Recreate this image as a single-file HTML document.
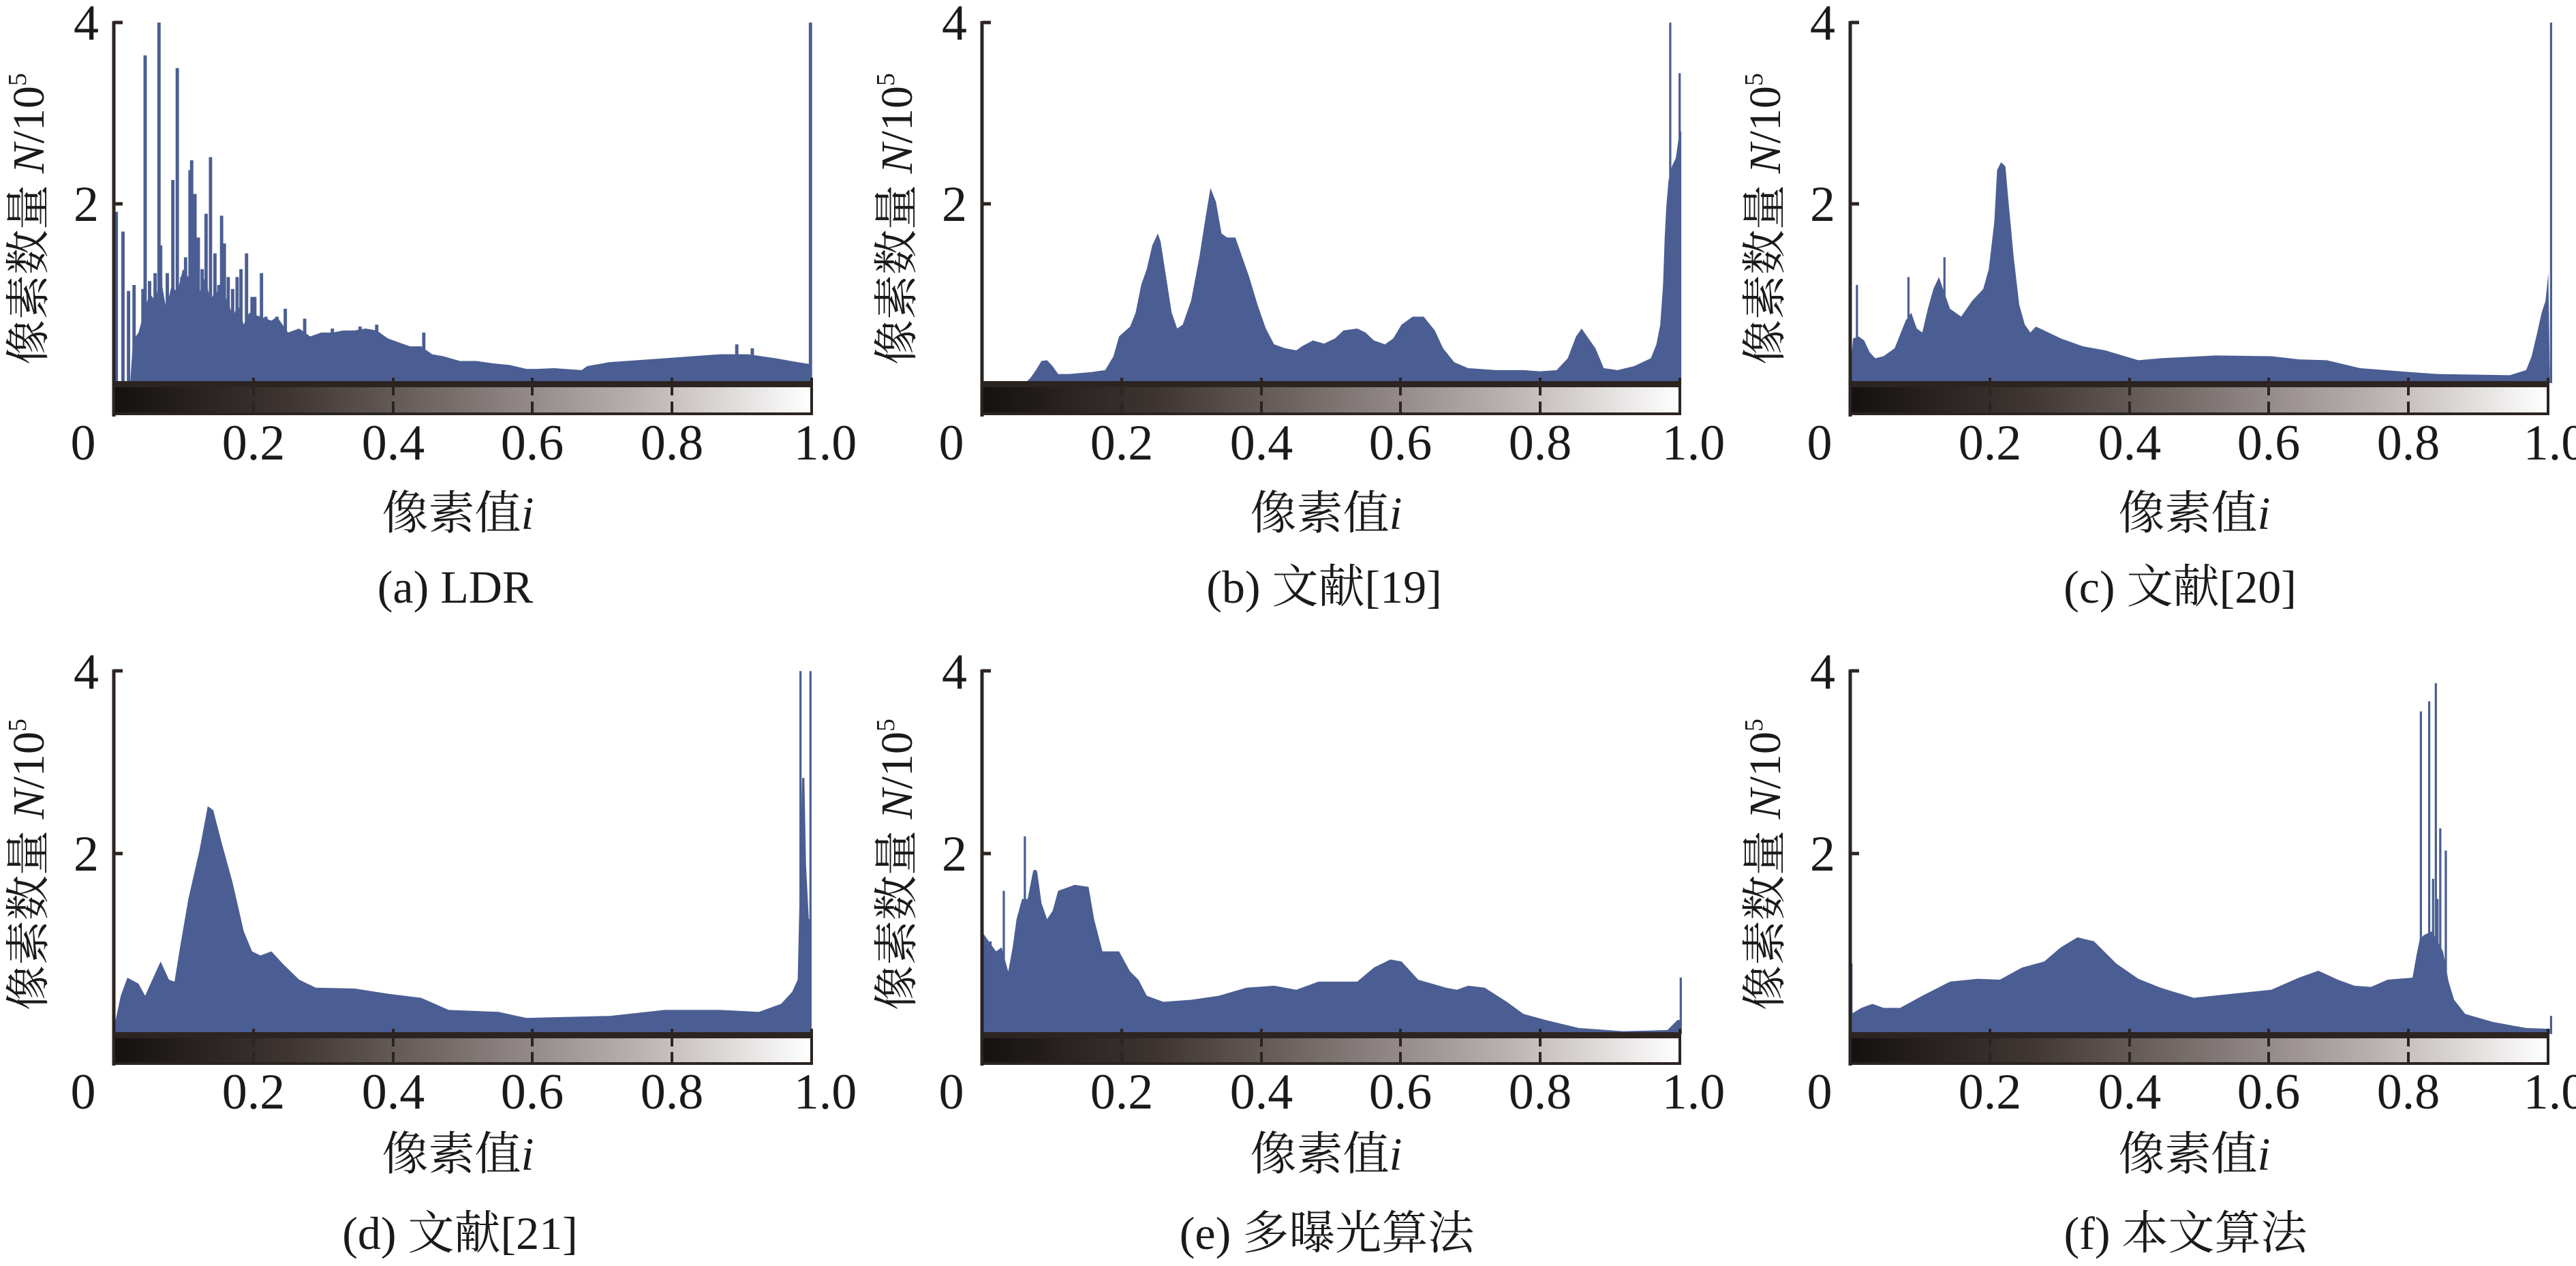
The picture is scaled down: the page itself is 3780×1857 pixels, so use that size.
<!DOCTYPE html>
<html><head><meta charset="utf-8"><style>
html,body{margin:0;padding:0;background:#fff;}
svg{display:block;}
text{font-family:"Liberation Serif","Noto Serif CJK SC",serif;fill:#1a1a1a;}
</style></head><body>
<svg width="3780" height="1857" viewBox="0 0 3780 1857" xmlns="http://www.w3.org/2000/svg" font-family="'Liberation Serif','Noto Serif CJK SC',serif">
<defs>
<linearGradient id="g" x1="0" y1="0" x2="1" y2="0">
<stop offset="0" stop-color="#141111"/><stop offset="0.25" stop-color="#3e3532"/><stop offset="0.5" stop-color="#7b7270"/><stop offset="0.75" stop-color="#b9b1b0"/><stop offset="1" stop-color="#ffffff"/>
</linearGradient>
</defs>

<g fill="#4b5e93" stroke="none">
<g transform="translate(0,0) scale(0.8129,0.5806)">
<path d="M205,968 L235,968 240,860 250,840 260,790 270,740 280,760 290,700 300,780 310,720 320,740 330,680 340,700 350,690 360,740 370,700 380,760 390,730 400,780 410,750 420,800 430,770 440,820 450,790 470,800 490,810 500,800 520,840 540,830 560,850 580,840 600,840 620,835 640,835 660,830 680,835 700,855 720,865 740,875 760,875 780,895 800,900 830,912 860,912 890,918 920,922 950,932 970,932 1000,930 1050,935 1060,925 1100,915 1150,910 1200,905 1250,900 1300,895 1350,895 1400,905 1440,915 1463,920 1463,968 Z"/>
<path stroke="#4b5e93" stroke-width="6" fill="none" d="M210,968V535M222,968V585M232,968V735M242,968V720M258,968V730M262,968V140M270,968V710M280,968V690M287,968V57M290,968V620M302,968V690M312,968V455M320,968V172M328,968V700M335,968V650M343,968V430M346,968V405M352,968V490M358,968V600M365,968V680M372,968V540M380,968V397M388,968V640M395,968V720M400,968V545M405,968V615M412,968V700M420,968V730M428,968V700M435,968V680M445,968V640M455,968V750M460,968V750M472,968V690M480,968V800M500,968V800M515,968V780M550,968V805M600,968V830M650,968V825M680,968V820M765,968V840M1330,968V870M1358,968V880M1463,968V57"/>
</g>
<g transform="translate(1260,0) scale(0.8129,0.5806)">
<path d="M222,968 L300,968 310,955 320,935 330,912 340,910 350,925 360,945 380,945 420,940 445,935 460,900 470,850 490,825 500,790 510,720 520,680 530,620 540,590 545,610 555,700 565,790 575,830 585,820 600,760 615,650 625,560 635,475 645,510 655,590 665,600 680,600 690,640 705,700 720,770 735,830 750,870 770,880 790,885 800,875 820,860 840,868 860,855 875,835 900,830 915,840 930,860 950,870 965,855 980,820 1000,800 1020,800 1040,835 1055,880 1075,915 1100,930 1150,935 1200,935 1230,938 1260,935 1280,905 1295,850 1305,830 1320,860 1330,880 1345,930 1370,935 1400,925 1430,905 1440,870 1447,820 1452,720 1455,600 1458,520 1462,455 1468,420 1475,400 1480,350 1485,330 1485,968 Z"/>
<path stroke="#4b5e93" stroke-width="4" fill="none" d="M1465,968V57M1482,968V185M1470,968V455"/>
</g>
<g transform="translate(2520,0) scale(0.8129,0.5806)">
<path d="M240,968 L240,940 245,855 255,850 265,860 275,890 285,905 300,900 320,880 330,845 340,810 350,790 360,830 370,840 380,780 390,730 400,700 410,740 420,780 430,790 440,800 460,760 480,730 490,680 495,620 500,560 505,430 512,410 520,420 525,500 535,650 545,770 555,820 565,840 575,825 590,835 620,855 660,875 700,885 760,910 800,905 900,898 1000,900 1050,908 1100,910 1160,930 1250,940 1300,945 1430,948 1460,935 1470,900 1480,840 1488,790 1495,760 1500,690 1503,968 Z"/>
<path stroke="#4b5e93" stroke-width="4" fill="none" d="M252,968V720M345,968V700M410,968V650M1505,968V57"/>
</g>
<g transform="translate(0,940) scale(0.8129,0.5916)">
<path d="M205,975 L208,945 218,880 230,835 250,850 262,880 275,840 290,795 305,840 315,845 325,760 340,640 360,520 375,410 385,420 400,500 420,600 440,720 455,770 470,780 490,770 510,800 540,840 570,860 640,862 700,875 760,885 810,915 900,920 950,935 1100,930 1200,915 1300,915 1370,920 1410,900 1430,870 1440,840 1448,340 1452,340 1455,555 1460,690 1465,690 1465,975 Z"/>
<path stroke="#4b5e93" stroke-width="4" fill="none" d="M1445,975V75M1463,975V75"/>
</g>
<g transform="translate(1260,940) scale(0.8129,0.5916)">
<path d="M222,975 L222,720 235,745 248,770 258,760 270,820 278,760 285,690 295,640 305,640 315,570 322,570 330,650 340,690 350,670 360,620 390,605 415,610 425,690 440,770 470,770 490,820 505,840 520,880 550,895 600,890 650,880 700,860 750,855 790,865 830,845 900,845 930,810 960,790 980,795 1010,840 1060,860 1080,865 1100,855 1130,860 1170,895 1200,925 1240,940 1300,960 1380,968 1460,965 1478,940 1485,940 1485,975 Z"/>
<path stroke="#4b5e93" stroke-width="4" fill="none" d="M222,975V325M238,975V745M262,975V620M300,975V485M318,975V568M1484,975V835"/>
</g>
<g transform="translate(2520,940) scale(0.8129,0.5916)">
<path d="M240,975 L242,925 260,910 280,900 300,910 330,910 370,880 420,845 470,838 510,840 550,810 590,795 620,760 650,735 680,745 720,800 760,838 800,860 860,885 930,875 1000,865 1050,835 1085,818 1120,840 1150,855 1180,858 1210,840 1255,835 1262,780 1268,740 1275,730 1290,720 1310,770 1320,845 1330,890 1350,925 1400,945 1460,960 1503,962 1503,975 Z"/>
<path stroke="#4b5e93" stroke-width="4" fill="none" d="M242,975V800M1270,975V175M1285,975V150M1297,975V105M1292,975V590M1300,975V640M1305,975V465M1315,975V520M1505,975V930"/>
</g>
</g>

<g stroke="#2b2421" fill="none">
<line x1="167" y1="31" x2="167" y2="611" stroke-width="5"/><line x1="167" y1="33" x2="180" y2="33" stroke-width="5"/><line x1="167" y1="299" x2="180" y2="299" stroke-width="5"/>
<rect x="167" y="566" width="1024" height="41" fill="url(#g)" stroke-width="4"/><line x1="165" y1="563" x2="1193" y2="563" stroke-width="8"/>
<path stroke-width="4" d="M372,554V580M372,589V607M577,554V580M577,589V607M781,554V580M781,589V607M986,554V580M986,589V607M1191,554V609"/>
<line x1="1441" y1="31" x2="1441" y2="611" stroke-width="5"/><line x1="1441" y1="33" x2="1454" y2="33" stroke-width="5"/><line x1="1441" y1="299" x2="1454" y2="299" stroke-width="5"/>
<rect x="1441" y="566" width="1024" height="41" fill="url(#g)" stroke-width="4"/><line x1="1439" y1="563" x2="2467" y2="563" stroke-width="8"/>
<path stroke-width="4" d="M1646,554V580M1646,589V607M1851,554V580M1851,589V607M2055,554V580M2055,589V607M2260,554V580M2260,589V607M2465,554V609"/>
<line x1="2715" y1="31" x2="2715" y2="611" stroke-width="5"/><line x1="2715" y1="33" x2="2728" y2="33" stroke-width="5"/><line x1="2715" y1="299" x2="2728" y2="299" stroke-width="5"/>
<rect x="2715" y="566" width="1024" height="41" fill="url(#g)" stroke-width="4"/><line x1="2713" y1="563" x2="3741" y2="563" stroke-width="8"/>
<path stroke-width="4" d="M2920,554V580M2920,589V607M3125,554V580M3125,589V607M3329,554V580M3329,589V607M3534,554V580M3534,589V607M3739,554V609"/>
<line x1="167" y1="982" x2="167" y2="1563" stroke-width="5"/><line x1="167" y1="984" x2="180" y2="984" stroke-width="5"/><line x1="167" y1="1252" x2="180" y2="1252" stroke-width="5"/>
<rect x="167" y="1521" width="1024" height="39" fill="url(#g)" stroke-width="4"/><line x1="165" y1="1518" x2="1193" y2="1518" stroke-width="8"/>
<path stroke-width="4" d="M372,1509V1535M372,1543V1560M577,1509V1535M577,1543V1560M781,1509V1535M781,1543V1560M986,1509V1535M986,1543V1560M1191,1509V1562"/>
<line x1="1441" y1="982" x2="1441" y2="1563" stroke-width="5"/><line x1="1441" y1="984" x2="1454" y2="984" stroke-width="5"/><line x1="1441" y1="1252" x2="1454" y2="1252" stroke-width="5"/>
<rect x="1441" y="1521" width="1024" height="39" fill="url(#g)" stroke-width="4"/><line x1="1439" y1="1518" x2="2467" y2="1518" stroke-width="8"/>
<path stroke-width="4" d="M1646,1509V1535M1646,1543V1560M1851,1509V1535M1851,1543V1560M2055,1509V1535M2055,1543V1560M2260,1509V1535M2260,1543V1560M2465,1509V1562"/>
<line x1="2715" y1="982" x2="2715" y2="1563" stroke-width="5"/><line x1="2715" y1="984" x2="2728" y2="984" stroke-width="5"/><line x1="2715" y1="1252" x2="2728" y2="1252" stroke-width="5"/>
<rect x="2715" y="1521" width="1024" height="39" fill="url(#g)" stroke-width="4"/><line x1="2713" y1="1518" x2="3741" y2="1518" stroke-width="8"/>
<path stroke-width="4" d="M2920,1509V1535M2920,1543V1560M3125,1509V1535M3125,1543V1560M3329,1509V1535M3329,1543V1560M3534,1509V1535M3534,1543V1560M3739,1509V1562"/>
</g>

<g font-size="74">
<text x="145" y="58" text-anchor="end">4</text><text x="145" y="324" text-anchor="end">2</text>
<text x="1419" y="58" text-anchor="end">4</text><text x="1419" y="324" text-anchor="end">2</text>
<text x="2693" y="58" text-anchor="end">4</text><text x="2693" y="324" text-anchor="end">2</text>
<text x="145" y="1010" text-anchor="end">4</text><text x="145" y="1277" text-anchor="end">2</text>
<text x="1419" y="1010" text-anchor="end">4</text><text x="1419" y="1277" text-anchor="end">2</text>
<text x="2693" y="1010" text-anchor="end">4</text><text x="2693" y="1277" text-anchor="end">2</text>
</g>
<g font-size="74" text-anchor="middle">
<text x="122" y="674">0</text><text x="372" y="674">0.2</text><text x="577" y="674">0.4</text><text x="781" y="674">0.6</text><text x="986" y="674">0.8</text><text x="1211" y="674">1.0</text>
<text x="1396" y="674">0</text><text x="1646" y="674">0.2</text><text x="1851" y="674">0.4</text><text x="2055" y="674">0.6</text><text x="2260" y="674">0.8</text><text x="2485" y="674">1.0</text>
<text x="2670" y="674">0</text><text x="2920" y="674">0.2</text><text x="3125" y="674">0.4</text><text x="3329" y="674">0.6</text><text x="3534" y="674">0.8</text><text x="3749" y="674">1.0</text>
<text x="122" y="1626">0</text><text x="372" y="1626">0.2</text><text x="577" y="1626">0.4</text><text x="781" y="1626">0.6</text><text x="986" y="1626">0.8</text><text x="1211" y="1626">1.0</text>
<text x="1396" y="1626">0</text><text x="1646" y="1626">0.2</text><text x="1851" y="1626">0.4</text><text x="2055" y="1626">0.6</text><text x="2260" y="1626">0.8</text><text x="2485" y="1626">1.0</text>
<text x="2670" y="1626">0</text><text x="2920" y="1626">0.2</text><text x="3125" y="1626">0.4</text><text x="3329" y="1626">0.6</text><text x="3534" y="1626">0.8</text><text x="3749" y="1626">1.0</text>
</g>
<g font-size="68" text-anchor="middle">
<text x="672" y="776">像素值<tspan font-style="italic">i</tspan></text>
<text x="1946" y="776">像素值<tspan font-style="italic">i</tspan></text>
<text x="3220" y="776">像素值<tspan font-style="italic">i</tspan></text>
<text x="672" y="1716">像素值<tspan font-style="italic">i</tspan></text>
<text x="1946" y="1716">像素值<tspan font-style="italic">i</tspan></text>
<text x="3220" y="1716">像素值<tspan font-style="italic">i</tspan></text>
</g>
<g font-size="68" text-anchor="middle">
<text x="668" y="884">(a) LDR</text>
<text x="1943" y="884">(b) 文献[19]</text>
<text x="3199" y="884">(c) 文献[20]</text>
<text x="675" y="1832">(d) 文献[21]</text>
<text x="1947" y="1832">(e) 多曝光算法</text>
<text x="3207" y="1832">(f) 本文算法</text>
</g>
<g font-size="66" text-anchor="middle">
<text transform="translate(64,321) rotate(-90)">像素数量 <tspan font-style="italic">N</tspan>/10<tspan font-size="38" dy="-26">5</tspan></text>
<text transform="translate(1338,321) rotate(-90)">像素数量 <tspan font-style="italic">N</tspan>/10<tspan font-size="38" dy="-26">5</tspan></text>
<text transform="translate(2612,321) rotate(-90)">像素数量 <tspan font-style="italic">N</tspan>/10<tspan font-size="38" dy="-26">5</tspan></text>
<text transform="translate(64,1268) rotate(-90)">像素数量 <tspan font-style="italic">N</tspan>/10<tspan font-size="38" dy="-26">5</tspan></text>
<text transform="translate(1338,1268) rotate(-90)">像素数量 <tspan font-style="italic">N</tspan>/10<tspan font-size="38" dy="-26">5</tspan></text>
<text transform="translate(2612,1268) rotate(-90)">像素数量 <tspan font-style="italic">N</tspan>/10<tspan font-size="38" dy="-26">5</tspan></text>
</g>
</svg>
</body></html>
